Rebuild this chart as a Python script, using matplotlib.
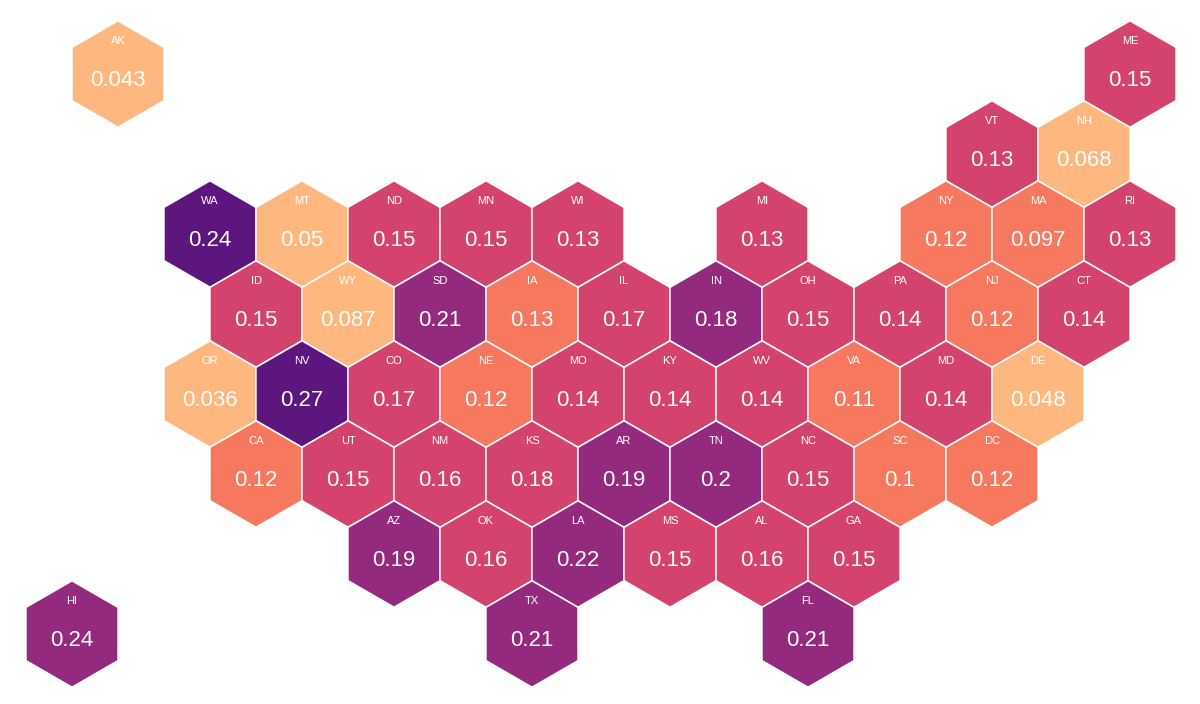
import matplotlib.pyplot as plt
from matplotlib.patches import RegularPolygon
import numpy as np

plt.rcParams['font.family'] = ['Liberation Sans', 'DejaVu Sans']

# state, hex column, hex row, value, colour class
states = ["AK", "ME", "VT", "NH",
          "WA", "MT", "ND", "MN", "WI", "MI", "NY", "MA", "RI",
          "ID", "WY", "SD", "IA", "IL", "IN", "OH", "PA", "NJ", "CT",
          "OR", "NV", "CO", "NE", "MO", "KY", "WV", "VA", "MD", "DE",
          "CA", "UT", "NM", "KS", "AR", "TN", "NC", "SC", "DC",
          "AZ", "OK", "LA", "MS", "AL", "GA",
          "HI", "TX", "FL"]
cols = [-1, 10, 8, 9,
        0, 1, 2, 3, 4, 6, 8, 9, 10,
        0, 1, 2, 3, 4, 5, 6, 7, 8, 9,
        0, 1, 2, 3, 4, 5, 6, 7, 8, 9,
        0, 1, 2, 3, 4, 5, 6, 7, 8,
        2, 3, 4, 5, 6, 7,
        -2, 3, 6]
rows = [0, 0, 1, 1,
        2, 2, 2, 2, 2, 2, 2, 2, 2,
        3, 3, 3, 3, 3, 3, 3, 3, 3, 3,
        4, 4, 4, 4, 4, 4, 4, 4, 4, 4,
        5, 5, 5, 5, 5, 5, 5, 5, 5,
        6, 6, 6, 6, 6, 6,
        7, 7, 7]
values = ["0.043", "0.15", "0.13", "0.068",
          "0.24", "0.05", "0.15", "0.15", "0.13", "0.13", "0.12", "0.097", "0.13",
          "0.15", "0.087", "0.21", "0.13", "0.17", "0.18", "0.15", "0.14", "0.12", "0.14",
          "0.036", "0.27", "0.17", "0.12", "0.14", "0.14", "0.14", "0.11", "0.14", "0.048",
          "0.12", "0.15", "0.16", "0.18", "0.19", "0.2", "0.15", "0.1", "0.12",
          "0.19", "0.16", "0.22", "0.15", "0.16", "0.15",
          "0.24", "0.21", "0.21"]
bins = [0, 2, 2, 0,
        4, 0, 2, 2, 2, 2, 1, 1, 2,
        2, 0, 3, 1, 2, 3, 2, 2, 1, 2,
        0, 4, 2, 1, 2, 2, 2, 1, 2, 0,
        1, 2, 2, 2, 3, 3, 2, 1, 1,
        3, 2, 3, 2, 2, 2,
        3, 3, 3]
palette = ["#feb77f", "#f5785f", "#d3436e", "#942a7e", "#5c167e"]

W = 92.0
R = W / np.sqrt(3)
X0, Y0, DY = 210.0, 74.0, 80.0

fig = plt.figure(figsize=(12, 7.04), dpi=100)
ax = fig.add_axes([0, 0, 1, 1])
ax.set_xlim(0, 1200)
ax.set_ylim(704, 0)
ax.axis("off")

for st, c, r, v, b in zip(states, cols, rows, values, bins):
    x = X0 + c * W + (W / 2 if r % 2 else 0)
    y = Y0 + r * DY
    ax.add_patch(RegularPolygon((x, y), 6, radius=R, orientation=0,
                                facecolor=palette[b], edgecolor="white", lw=1))
    ax.text(x, y - 33, st, color="white", fontsize=8, ha="center", va="center")
    ax.text(x, y + 6, v, color="white", fontsize=16, ha="center", va="center")

fig.savefig("out.png", dpi=100)
